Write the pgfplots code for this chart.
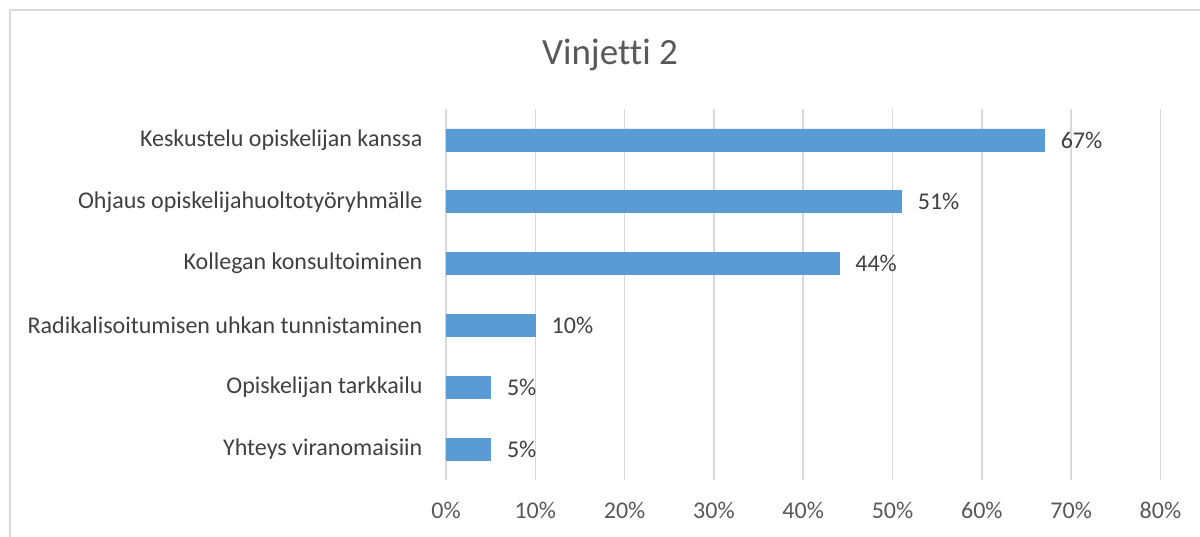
\documentclass[border=0pt]{standalone}
\usepackage{pgfplots}
\pgfplotsset{compat=1.18}
\usepackage{fontspec}
\setmainfont[Ligatures={NoCommon}]{Carlito}
\definecolor{barblue}{HTML}{5B9BD5}
\definecolor{gridgray}{HTML}{D9D9D9}
\definecolor{txt}{HTML}{595959}
\definecolor{lbl}{HTML}{404040}
\begin{document}
\begin{tikzpicture}
\useasboundingbox (0,0) rectangle (600pt,268pt);
\fill[white] (0,0) rectangle (600pt,268pt);
\draw[gridgray, line width=0.8pt] (5pt,-10pt) rectangle (610pt,263pt);
\node[text=txt, font=\fontsize{18.5}{22}\selectfont] at (305pt,240.5pt) {Vinjetti 2};
\begin{axis}[
  at={(223pt,28pt)}, anchor=south west,
  scale only axis, width=357.25pt, height=185.5pt,
  xbar, bar width=0.356,
  xmin=0, xmax=80, ymin=-0.5, ymax=5.5,
  y dir=reverse,
  xtick={0,10,...,80},
  xticklabels={0\%,10\%,20\%,30\%,40\%,50\%,60\%,70\%,80\%},
  ytick={0,...,5},
  yticklabels={Keskustelu opiskelijan kanssa,Ohjaus opiskelijahuoltotyöryhmälle,Kollegan konsultoiminen,Radikalisoitumisen uhkan tunnistaminen,Opiskelijan tarkkailu,Yhteys viranomaisiin},
  xmajorgrids, grid style={gridgray, line width=0.8pt},
  axis line style={draw=none},
  tick style={draw=none},
  x tick label style={text=txt, font=\fontsize{12}{14}\selectfont, yshift=-7.5pt},
  y tick label style={text=lbl, font=\fontsize{12}{14}\selectfont, xshift=-4pt},
  /pgf/number format/assume math mode=true,
  nodes near coords={\pgfmathprintnumber{\pgfplotspointmeta}\%},
  every node near coord/.append style={text=lbl, font=\fontsize{12}{14}\selectfont, inner sep=0pt, xshift=8pt},
]
\addplot[fill=barblue, draw=barblue] coordinates {(67,0) (51,1) (44,2) (10,3) (5,4) (5,5)};
\end{axis}
\end{tikzpicture}
\end{document}
